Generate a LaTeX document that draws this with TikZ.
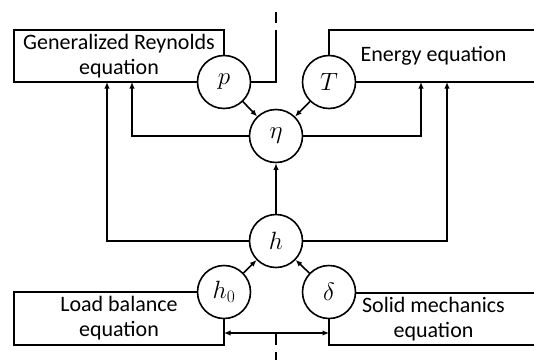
\documentclass[tikz,border=0pt]{standalone}
\usepackage{fix-cm}
\usepackage{fontspec}
\setmainfont{Carlito}
\usetikzlibrary{arrows.meta}
\begin{document}
\begin{tikzpicture}[x=1pt,y=-1pt,line width=1.6pt,
  box/.style={draw,line width=1.6pt,align=center,inner sep=0pt,
    font=\fontsize{22}{25}\selectfont},
  var/.style={circle,draw,fill=white,line width=1.6pt,minimum size=53pt,inner sep=0pt,
    font=\fontsize{25}{28}\selectfont},
  arr/.style={-{Latex[length=6.5pt,width=5.5pt]}},
  darr/.style={{Latex[length=6.5pt,width=5.5pt]}-{Latex[length=6.5pt,width=5.5pt]}}]
\clip (0,0) rectangle (534,359);
% boxes
\node[box,minimum width=210pt,minimum height=52pt] (rey) at (119,56) {Generalized Reynolds\\equation};
\node[box,minimum width=209pt,minimum height=52pt] (ene) at (433.5,56) {Energy equation};
\node[box,minimum width=210pt,minimum height=53pt] (load) at (119,318.5) {Load balance\\equation};
\node[box,minimum width=209pt,minimum height=52pt] (sol) at (433.5,319) {Solid mechanics\\equation};
% variables
\node[var] (p) at (224,82) {$p$};
\node[var] (T) at (329,82) {$T$};
\node[var] (eta) at (276,136) {$\eta$};
\node[var] (h) at (276,241) {$h$};
\node[var] (h0) at (224,292) {$h_0$};
\node[var] (d) at (329,292) {$\delta$};
% coordinates
\coordinate (reyA) at (132,82);
\coordinate (reyB) at (107,82);
\coordinate (eneA) at (421,82);
\coordinate (eneB) at (447,82);
\coordinate (loadE) at (224,333);
\coordinate (solW) at (329,333);
\coordinate (axTop) at (276,30);
\coordinate (axT1) at (276,12);
\coordinate (axT2) at (276,23);
\coordinate (axB) at (276,333);
\coordinate (axB0) at (276,345);
\coordinate (axB1) at (276,352);
\coordinate (axB2) at (276,362);
% connectors
\draw[arr] (p) -- (eta);
\draw[arr] (T) -- (eta);
\draw[arr] (h0) -- (h);
\draw[arr] (d) -- (h);
\draw[arr] (h) -- (eta);
\draw[arr] (eta.west) -| (reyA);
\draw[arr] (h.west) -| (reyB);
\draw[arr] (eta.east) -| (eneA);
\draw[arr] (h.east) -| (eneB);
\draw[darr] (loadE) -- (solW);
% axis line
\draw (p.east) -| (axTop);
\draw (axT1) -- (axT2);
\draw (axB) -- (axB0);
\draw (axB1) -- (axB2);
\end{tikzpicture}
\end{document}
